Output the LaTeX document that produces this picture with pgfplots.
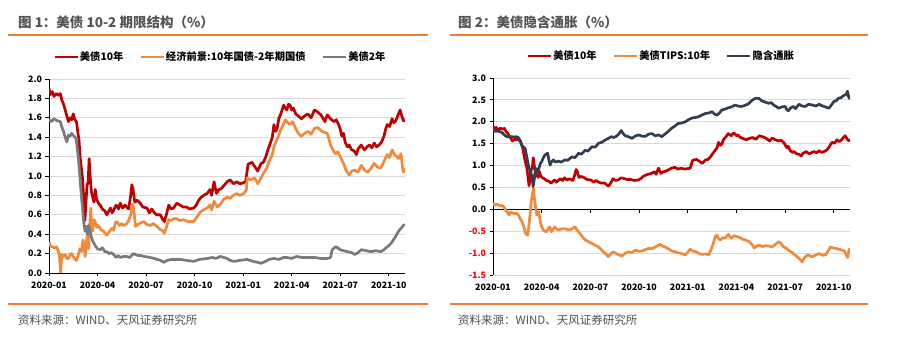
\documentclass[border=0pt]{standalone}
\usepackage{pgfplots}
\pgfplotsset{compat=1.18}
\usepackage{pgfplotstable}
\usepackage{fontspec}
\setmainfont{Noto Sans CJK SC}
\definecolor{cred}{HTML}{C00000}
\definecolor{corange}{HTML}{F08A3C}
\definecolor{cgray}{HTML}{7A7A7A}
\definecolor{cnavy}{HTML}{333F50}
\definecolor{crule}{HTML}{ED7D31}
\definecolor{ctitle}{HTML}{505050}
\definecolor{ctitleb}{HTML}{555555}
\definecolor{cneg}{HTML}{FF0000}

% US 10Y yield (months since 2020-01-01)
\pgfplotstableread{
x y
0.00 1.90
0.10 1.84
0.20 1.87
0.30 1.82
0.45 1.85
0.60 1.83
0.70 1.85
0.80 1.78
0.90 1.74
1.00 1.68
1.10 1.62
1.20 1.56
1.30 1.60
1.40 1.58
1.50 1.64
1.60 1.58
1.70 1.56
1.78 1.45
1.85 1.38
1.92 1.20
2.00 1.08
2.08 0.96
2.15 0.75
2.22 0.54
2.28 0.72
2.35 0.90
2.42 0.94
2.48 1.18
2.55 0.98
2.62 0.84
2.70 0.78
2.78 0.73
2.86 0.86
2.94 0.76
3.05 0.72
3.16 0.70
3.30 0.66
3.45 0.64
3.57 0.60
3.70 0.64
3.80 0.67
3.90 0.62
4.00 0.65
4.15 0.70
4.30 0.66
4.40 0.72
4.55 0.67
4.70 0.70
4.80 0.68
4.92 0.66
5.05 0.80
5.12 0.91
5.20 0.86
5.30 0.73
5.45 0.75
5.64 0.72
5.80 0.68
6.05 0.67
6.20 0.62
6.35 0.66
6.47 0.63
6.65 0.60
6.88 0.60
7.00 0.56
7.13 0.53
7.25 0.60
7.40 0.70
7.55 0.66
7.70 0.67
7.90 0.72
8.10 0.70
8.30 0.68
8.50 0.68
8.70 0.66
8.95 0.67
9.10 0.70
9.25 0.75
9.40 0.78
9.55 0.80
9.77 0.82
9.95 0.86
10.05 0.80
10.20 0.94
10.35 0.82
10.50 0.86
10.65 0.87
10.80 0.90
11.00 0.94
11.20 0.96
11.40 0.92
11.60 0.94
11.80 0.92
12.00 0.93
12.15 0.94
12.30 1.12
12.40 1.13
12.55 1.14
12.70 1.10
12.90 1.05
13.10 1.13
13.25 1.14
13.40 1.20
13.55 1.28
13.70 1.35
13.80 1.40
13.90 1.53
14.00 1.46
14.10 1.49
14.20 1.59
14.30 1.63
14.40 1.68
14.50 1.73
14.60 1.70
14.70 1.68
14.80 1.74
14.90 1.73
15.00 1.68
15.10 1.70
15.25 1.64
15.40 1.62
15.60 1.59
15.80 1.62
16.00 1.64
16.20 1.60
16.40 1.68
16.60 1.66
16.80 1.63
16.95 1.59
17.05 1.56
17.20 1.63
17.40 1.59
17.60 1.56
17.75 1.58
17.90 1.53
18.00 1.48
18.10 1.41
18.20 1.44
18.30 1.35
18.45 1.30
18.55 1.32
18.70 1.27
18.85 1.26
19.00 1.22
19.10 1.28
19.30 1.32
19.40 1.29
19.50 1.27
19.65 1.30
19.80 1.32
19.95 1.29
20.10 1.34
20.25 1.30
20.40 1.32
20.55 1.35
20.70 1.41
20.80 1.48
20.90 1.53
21.05 1.51
21.20 1.59
21.30 1.55
21.40 1.56
21.55 1.62
21.70 1.68
21.80 1.62
21.90 1.57
22.00 1.58
}\tenY

% 10Y-2Y spread
\pgfplotstableread{
x y
0.00 0.32
0.08 0.28
0.20 0.27
0.35 0.26
0.48 0.27
0.58 0.22
0.64 0.19
0.70 0.05
0.72 0.00
0.76 0.12
0.80 0.19
0.90 0.17
1.00 0.19
1.10 0.15
1.20 0.15
1.30 0.19
1.40 0.20
1.50 0.17
1.60 0.14
1.70 0.13
1.80 0.18
1.90 0.25
2.00 0.22
2.10 0.34
2.18 0.26
2.23 0.17
2.30 0.30
2.36 0.39
2.45 0.25
2.52 0.50
2.58 0.67
2.64 0.50
2.70 0.43
2.78 0.55
2.85 0.53
2.95 0.47
3.06 0.49
3.20 0.45
3.37 0.43
3.50 0.40
3.57 0.39
3.70 0.42
3.88 0.46
4.00 0.44
4.10 0.52
4.20 0.53
4.35 0.49
4.50 0.51
4.60 0.49
4.75 0.50
4.90 0.53
5.05 0.60
5.15 0.71
5.22 0.68
5.35 0.48
5.50 0.50
5.70 0.52
5.85 0.53
6.05 0.50
6.26 0.49
6.45 0.51
6.67 0.48
6.85 0.45
7.00 0.44
7.13 0.41
7.25 0.47
7.40 0.55
7.55 0.54
7.70 0.56
7.90 0.56
8.10 0.54
8.30 0.55
8.60 0.53
8.95 0.53
9.15 0.58
9.36 0.63
9.55 0.65
9.77 0.67
9.95 0.70
10.05 0.65
10.20 0.74
10.40 0.68
10.60 0.71
10.80 0.76
11.00 0.78
11.20 0.77
11.40 0.80
11.60 0.82
11.80 0.80
12.05 0.82
12.20 0.86
12.25 0.98
12.45 0.96
12.70 0.98
12.90 0.92
13.10 0.98
13.30 1.04
13.45 1.08
13.60 1.15
13.80 1.22
13.90 1.30
14.00 1.34
14.10 1.38
14.20 1.42
14.30 1.47
14.45 1.52
14.60 1.58
14.75 1.55
14.90 1.53
15.05 1.56
15.25 1.49
15.40 1.44
15.60 1.41
15.80 1.44
16.00 1.46
16.20 1.43
16.40 1.49
16.60 1.50
16.80 1.47
17.00 1.45
17.20 1.44
17.30 1.38
17.40 1.32
17.55 1.27
17.70 1.23
17.85 1.25
18.00 1.20
18.10 1.16
18.20 1.13
18.35 1.06
18.55 1.01
18.70 1.05
18.90 1.06
19.10 1.04
19.30 1.11
19.50 1.06
19.70 1.04
19.90 1.08
20.10 1.13
20.30 1.09
20.50 1.08
20.70 1.15
20.90 1.22
21.05 1.19
21.20 1.27
21.35 1.22
21.50 1.20
21.60 1.18
21.75 1.23
21.85 1.08
21.90 1.04
22.00 1.08
}\spread

% US 2Y yield
\pgfplotstableread{
x y
0.00 1.58
0.15 1.56
0.30 1.59
0.50 1.57
0.70 1.56
0.80 1.50
0.90 1.46
1.00 1.40
1.10 1.35
1.20 1.42
1.30 1.41
1.40 1.44
1.50 1.42
1.60 1.40
1.67 1.39
1.75 1.28
1.82 1.18
1.90 1.01
2.00 0.80
2.08 0.65
2.15 0.52
2.23 0.43
2.30 0.48
2.38 0.40
2.44 0.49
2.52 0.45
2.60 0.38
2.70 0.33
2.80 0.30
2.90 0.27
3.00 0.25
3.16 0.24
3.30 0.26
3.45 0.22
3.57 0.22
3.70 0.20
3.85 0.21
4.00 0.19
4.15 0.16
4.30 0.18
4.40 0.16
4.60 0.17
4.80 0.17
5.00 0.16
5.20 0.20
5.35 0.19
5.50 0.18
5.64 0.18
5.90 0.17
6.26 0.16
6.50 0.15
6.88 0.13
7.10 0.11
7.30 0.13
7.60 0.14
8.10 0.14
8.50 0.13
8.95 0.12
9.30 0.14
9.77 0.15
10.10 0.16
10.30 0.15
10.60 0.17
10.80 0.16
11.00 0.15
11.20 0.13
11.40 0.12
11.80 0.13
12.25 0.14
12.60 0.12
12.90 0.11
13.10 0.10
13.40 0.12
13.60 0.14
13.90 0.15
14.20 0.14
14.50 0.16
14.70 0.16
15.00 0.15
15.30 0.17
15.60 0.16
16.00 0.16
16.40 0.16
16.80 0.15
17.20 0.15
17.40 0.16
17.50 0.24
17.70 0.27
17.85 0.26
18.00 0.24
18.20 0.23
18.45 0.22
18.70 0.21
18.90 0.19
19.10 0.21
19.30 0.24
19.60 0.23
19.90 0.22
20.20 0.23
20.50 0.22
20.70 0.24
20.90 0.27
21.05 0.29
21.20 0.32
21.40 0.37
21.60 0.43
21.75 0.46
21.90 0.49
22.00 0.50
}\twoY

% US TIPS 10Y
\pgfplotstableread{
x y
0.00 0.14
0.12 0.09
0.22 0.12
0.33 0.10
0.45 0.08
0.55 0.09
0.64 0.06
0.75 0.01
0.84 -0.05
0.92 -0.08
0.99 -0.13
1.08 -0.06
1.15 -0.07
1.30 -0.10
1.46 -0.09
1.58 -0.14
1.67 -0.21
1.78 -0.28
1.87 -0.36
1.95 -0.46
2.00 -0.55
2.08 -0.58
2.14 -0.59
2.20 -0.40
2.28 -0.13
2.36 0.20
2.43 0.33
2.49 0.48
2.55 0.25
2.60 0.10
2.66 -0.05
2.70 -0.13
2.76 -0.08
2.80 -0.05
2.88 -0.20
2.96 -0.36
3.03 -0.42
3.10 -0.47
3.20 -0.50
3.30 -0.51
3.40 -0.44
3.50 -0.40
3.60 -0.51
3.70 -0.46
3.80 -0.40
3.90 -0.44
4.00 -0.47
4.20 -0.45
4.44 -0.44
4.65 -0.47
4.86 -0.45
4.96 -0.42
5.06 -0.40
5.15 -0.46
5.27 -0.51
5.45 -0.60
5.68 -0.70
5.90 -0.74
6.10 -0.78
6.30 -0.82
6.50 -0.86
6.65 -0.91
6.80 -0.97
6.95 -1.02
7.10 -1.08
7.25 -1.02
7.40 -0.97
7.55 -1.00
7.75 -1.04
7.94 -1.07
8.15 -1.00
8.35 -0.97
8.55 -0.99
8.77 -0.93
9.00 -0.96
9.20 -0.95
9.40 -0.92
9.60 -0.89
9.80 -0.90
10.00 -0.86
10.15 -0.83
10.30 -0.80
10.45 -0.84
10.60 -0.86
10.80 -0.90
11.00 -0.95
11.20 -0.97
11.40 -0.99
11.60 -1.01
11.85 -1.04
12.00 -0.98
12.15 -0.91
12.30 -0.95
12.50 -0.97
12.70 -1.01
12.90 -1.03
13.10 -1.02
13.30 -1.04
13.40 -0.95
13.50 -0.86
13.60 -0.75
13.70 -0.62
13.80 -0.59
13.90 -0.67
14.00 -0.70
14.15 -0.65
14.30 -0.66
14.50 -0.57
14.60 -0.62
14.70 -0.66
14.85 -0.60
15.00 -0.62
15.20 -0.64
15.35 -0.68
15.55 -0.70
15.80 -0.74
15.95 -0.80
16.10 -0.88
16.25 -0.84
16.40 -0.82
16.60 -0.85
16.80 -0.83
17.00 -0.84
17.20 -0.86
17.40 -0.80
17.60 -0.74
17.75 -0.78
17.90 -0.86
18.05 -0.88
18.20 -0.93
18.40 -0.98
18.60 -1.04
18.80 -1.10
18.95 -1.15
19.05 -1.20
19.20 -1.10
19.40 -1.04
19.55 -1.07
19.70 -1.08
19.90 -1.04
20.10 -1.01
20.30 -1.05
20.50 -1.04
20.65 -0.95
20.80 -0.86
20.95 -0.88
21.10 -0.89
21.30 -0.91
21.50 -0.93
21.65 -0.95
21.78 -1.05
21.85 -1.10
21.92 -0.95
22.00 -0.89
}\tips

% Breakeven inflation
\pgfplotstableread{
x y
0.00 1.81
0.15 1.78
0.30 1.79
0.53 1.76
0.70 1.70
0.84 1.66
1.00 1.66
1.15 1.66
1.30 1.65
1.45 1.66
1.56 1.64
1.65 1.58
1.77 1.47
1.88 1.42
1.98 1.39
2.08 1.20
2.18 1.01
2.30 0.85
2.39 0.78
2.47 0.52
2.55 0.70
2.62 0.94
2.70 0.90
2.78 0.86
2.84 0.95
2.92 1.05
3.00 1.09
3.10 1.18
3.20 1.24
3.30 1.27
3.37 1.28
3.45 1.12
3.52 1.01
3.60 1.08
3.72 1.13
3.85 1.08
4.03 1.10
4.20 1.08
4.44 1.13
4.60 1.12
4.86 1.20
5.05 1.18
5.27 1.28
5.45 1.26
5.68 1.35
5.85 1.33
6.10 1.43
6.30 1.42
6.50 1.51
6.70 1.53
6.90 1.58
7.10 1.62
7.30 1.66
7.45 1.64
7.60 1.67
7.75 1.72
7.90 1.80
8.00 1.74
8.15 1.68
8.35 1.66
8.56 1.62
8.75 1.67
8.97 1.70
9.20 1.67
9.40 1.67
9.60 1.72
9.80 1.73
10.00 1.68
10.20 1.70
10.40 1.66
10.60 1.72
10.80 1.78
11.00 1.85
11.20 1.90
11.40 1.96
11.60 1.97
11.85 2.00
12.05 2.05
12.30 2.09
12.50 2.10
12.70 2.12
12.90 2.16
13.10 2.19
13.30 2.20
13.50 2.23
13.65 2.18
13.80 2.15
13.95 2.20
14.10 2.27
14.30 2.29
14.50 2.32
14.70 2.34
14.90 2.38
15.10 2.36
15.30 2.35
15.50 2.37
15.70 2.40
15.85 2.45
16.00 2.50
16.20 2.54
16.40 2.53
16.55 2.48
16.70 2.46
16.85 2.44
17.00 2.42
17.15 2.44
17.30 2.38
17.45 2.35
17.60 2.31
17.80 2.34
18.00 2.35
18.10 2.28
18.20 2.25
18.35 2.32
18.50 2.35
18.65 2.30
18.85 2.40
19.05 2.36
19.25 2.35
19.45 2.40
19.70 2.38
19.90 2.36
20.10 2.40
20.25 2.37
20.40 2.35
20.55 2.33
20.70 2.31
20.85 2.38
21.00 2.46
21.15 2.48
21.30 2.54
21.45 2.55
21.60 2.60
21.75 2.62
21.85 2.70
21.92 2.56
22.00 2.52
}\bei

\pgfplotsset{
  panel/.style={
    scale only axis,
    anchor=south west,
    xmin=0, xmax=22,
    xtick={0,3,6,9,12,15,18,21},
    xticklabels={2020-01,2020-04,2020-07,2020-10,2021-01,2021-04,2021-07,2021-10},
    tick align=outside,
    major tick length=3.5bp,
    tick style={black, line width=0.8bp},
    axis line style={black, line width=1bp},
    ymajorgrids,
    grid style={draw=black!15, line width=0.8bp},
    tick label style={font=\bfseries\fontsize{8.8bp}{10bp}\selectfont},
    xticklabel style={yshift=-1.5bp},
    no markers,
    every axis plot/.append style={line width=2.7bp, line join=round},
    legend columns=3,
    legend cell align=left,
    legend style={draw=none, fill=none, anchor=center,
      font=\bfseries\fontsize{10.3bp}{12bp}\selectfont,
      nodes={inner sep=1bp},
      /tikz/every even column/.append style={column sep=15bp}},
    legend image code/.code={\draw[#1, line width=2.6bp] (0bp,0bp) -- (23bp,0bp);},
  }
}

\begin{document}
\begin{tikzpicture}
\path[use as bounding box, fill=white] (0bp,0bp) rectangle (905bp,339bp);

% titles
\node[anchor=west, inner sep=0pt, text=ctitleb, font=\bfseries\fontsize{13.5bp}{15bp}\selectfont] at (18bp,317bp) {图 1：美债 10-2 期限结构（\%）};
\node[anchor=west, inner sep=0pt, text=ctitleb, font=\bfseries\fontsize{13.5bp}{15bp}\selectfont] at (458bp,317bp) {图 2：美债隐含通胀（\%）};
% rules
\draw[crule, line width=1.5bp] (8bp,304bp) -- (428bp,304bp);
\draw[crule, line width=1.5bp] (450bp,304bp) -- (868bp,304bp);
\draw[crule, line width=1.5bp] (8bp,35bp) -- (428bp,35bp);
\draw[crule, line width=1.5bp] (450bp,35bp) -- (868bp,35bp);
% sources
\node[anchor=west, inner sep=0pt, text=ctitle, font=\fontsize{11.5bp}{13bp}\selectfont] at (18bp,19bp) {资料来源：WIND、天风证券研究所};
\node[anchor=west, inner sep=0pt, text=ctitle, font=\fontsize{11.5bp}{13bp}\selectfont] at (458bp,19bp) {资料来源：WIND、天风证券研究所};

% left panel
\begin{axis}[panel,
  at={(49bp,66bp)}, width=356bp, height=194bp,
  ymin=0, ymax=2,
  ytick={0,0.2,0.4,0.6,0.8,1,1.2,1.4,1.6,1.8,2},
  yticklabels={0.0,0.2,0.4,0.6,0.8,1.0,1.2,1.4,1.6,1.8,2.0},
  axis lines*=left,
  legend style={at={(0.48,1.113)}},
]
\addplot[cred] table[x=x,y=y] {\tenY};
\addlegendentry{美债10年}
\addplot[corange] table[x=x,y=y] {\spread};
\addlegendentry{经济前景:10年国债-2年期国债}
\addplot[cgray] table[x=x,y=y] {\twoY};
\addlegendentry{美债2年}
\end{axis}

% right panel
\begin{axis}[panel,
  at={(493bp,64bp)}, width=357bp, height=197bp,
  ymin=-1.5, ymax=3,
  ytick={-1.5,-1,-0.5,0,0.5,1,1.5,2,2.5,3},
  yticklabels={{\color{cneg}-1.5},{\color{cneg}-1.0},{\color{cneg}-0.5},0.0,0.5,1.0,1.5,2.0,2.5,3.0},
  axis y line*=left, axis x line*=bottom,
  x axis line style={draw=none},
  xtick style={draw=none},
  legend style={at={(0.47,1.112)}},
]
\draw[black, line width=1bp] (axis cs:0,0) -- (axis cs:22,0);
\draw[black, line width=0.8bp] (axis cs:3,0) -- ([yshift=-3.5bp]axis cs:3,0);
\draw[black, line width=0.8bp] (axis cs:6,0) -- ([yshift=-3.5bp]axis cs:6,0);
\draw[black, line width=0.8bp] (axis cs:9,0) -- ([yshift=-3.5bp]axis cs:9,0);
\draw[black, line width=0.8bp] (axis cs:12,0) -- ([yshift=-3.5bp]axis cs:12,0);
\draw[black, line width=0.8bp] (axis cs:15,0) -- ([yshift=-3.5bp]axis cs:15,0);
\draw[black, line width=0.8bp] (axis cs:18,0) -- ([yshift=-3.5bp]axis cs:18,0);
\draw[black, line width=0.8bp] (axis cs:21,0) -- ([yshift=-3.5bp]axis cs:21,0);
\addplot[cred] table[x=x,y=y] {\tenY};
\addlegendentry{美债10年}
\addplot[corange] table[x=x,y=y] {\tips};
\addlegendentry{美债TIPS:10年}
\addplot[cnavy] table[x=x,y=y] {\bei};
\addlegendentry{隐含通胀}
\end{axis}
\end{tikzpicture}
\end{document}
